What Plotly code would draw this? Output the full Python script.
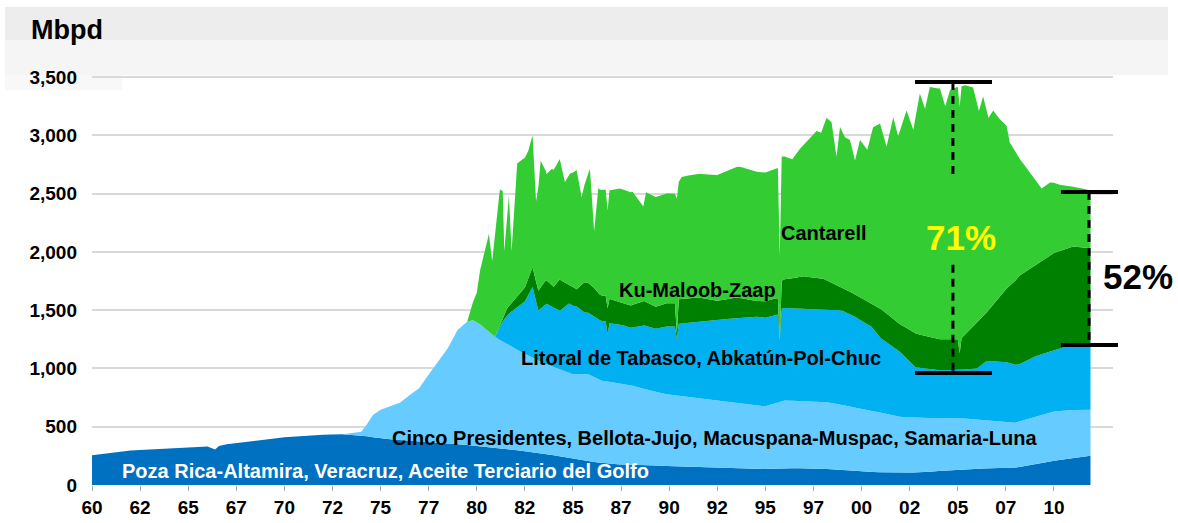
import plotly.graph_objects as go

# ---------------- data (Mbpd; fractional years) ----------------
poza_years = [1960, 1961, 1962, 1963, 1964, 1965, 1966, 1966.4, 1966.6, 1967, 1968, 1969,
              1970, 1971, 1972, 1973, 1974, 1975, 1976, 1977, 1978, 1979, 1980, 1981,
              1982, 1983, 1984, 1985, 1986, 1987, 1988, 1989, 1990, 1991, 1992, 1993,
              1994, 1995, 1996, 1997, 1998, 1999, 2000, 2001, 2002, 2003, 2004, 2005,
              2006, 2007, 2008, 2009, 2010, 2011, 2011.9]
poza_mbpd = [255, 275, 295, 305, 315, 325, 330, 305, 335, 350, 370, 390,
             410, 420, 432, 435, 425, 400, 385, 375, 365, 350, 335, 315,
             300, 280, 255, 225, 200, 180, 172, 168, 163, 158, 152, 148,
             142, 137, 143, 143, 140, 128, 115, 110, 107, 108, 120, 132,
             140, 143, 150, 175, 208, 230, 250]

cinco_years = [1960, 1973, 1973.5, 1974, 1974.3, 1974.6, 1975, 1975.5, 1976, 1976.5, 1977,
               1977.5, 1978, 1978.5, 1979, 1979.5, 1979.8, 1980.2, 1980.6, 1981, 1981.5,
               1982, 1983, 1984, 1985, 1985.8, 1986.5, 1987, 1988, 1989, 1990, 1991, 1992,
               1993, 1994, 1995, 1995.5, 1996, 1997, 1998, 1999, 2000, 2001, 2002, 2003,
               2004, 2005, 2006, 2007, 2008, 2009, 2010, 2011, 2011.9]
cinco_mbpd = [0, 0, 13, 32, 105, 190, 245, 280, 320, 390, 455,
              578, 695, 817, 980, 1057, 1076, 1043, 995, 950, 907,
              870, 800, 755, 725, 745, 705, 700, 683, 642, 612, 597, 578,
              562, 553, 538, 560, 582, 577, 575, 562, 535, 510, 478, 467,
              455, 443, 420, 402, 385, 410, 422, 413, 395]

litoral_years = [1960, 1980.95, 1981.3, 1981.6, 1982.1, 1982.5, 1982.9, 1983.2, 1983.6, 1984,
                 1984.3, 1984.8, 1985.2, 1985.6, 1986, 1986.4, 1986.7, 1986.8, 1986.9, 1987.6,
                 1988, 1988.7, 1989.3, 1989.9, 1990.3, 1990.4, 1990.5, 1991.5, 1992.5, 1993.5,
                 1994.5, 1995.4, 1995.65, 1995.75, 1995.85, 1997, 1998, 1998.9, 1999.5, 2000.5,
                 2001, 2002, 2002.8, 2004, 2005, 2006, 2006.5, 2007.5, 2008.2, 2009, 2010,
                 2011, 2011.9]
litoral_mbpd = [0, 0, 160, 255, 365, 450, 610, 430, 520, 510,
                500, 595, 580, 530, 525, 510, 515, 410, 505, 505,
                495, 545, 540, 582, 590, 482, 619, 657, 700, 727,
                760, 760, 755, 530, 795, 790, 785, 808, 790, 725,
                640, 555, 434, 410, 410, 440, 512, 515, 490, 515, 530,
                557, 565]

kmz_years = [1960, 1980.95, 1981.3, 1981.6, 1982.1, 1982.5, 1982.9, 1983.2, 1983.6, 1984,
             1984.3, 1984.8, 1985.2, 1985.6, 1986, 1986.4, 1986.7, 1986.8, 1986.9, 1987.6,
             1988, 1988.7, 1989.3, 1989.9, 1990.3, 1990.4, 1990.5, 1991.5, 1992.5, 1993.5,
             1994.5, 1995.4, 1995.65, 1995.75, 1995.85, 1997, 1998, 1998.9, 1999.5, 2000.5,
             2001, 2002, 2002.8, 2004, 2005, 2005.1, 2005.2, 2006, 2006.5, 2007.5, 2008.2,
             2009, 2010, 2011, 2011.9]
kmz_mbpd = [0, 0, 20, 60, 85, 120, 170, 170, 200, 180,
            270, 160, 150, 260, 250, 220, 220, 220, 210, 190,
            190, 210, 190, 200, 200, 50, 210, 210, 160, 180,
            135, 145, 140, 0, 240, 280, 270, 200, 190, 200,
            250, 240, 290, 265, 265, 144, 273, 390, 415, 625, 760,
            780, 830, 845, 820]

cantarell_years = [1960, 1979.5, 1980, 1980.17, 1980.5, 1980.63, 1980.8, 1981, 1981.2, 1981.35,
                   1981.43, 1981.67, 1981.81, 1982.07, 1982.4, 1982.68, 1982.9, 1983.08, 1983.32,
                   1983.63, 1983.89, 1984.32, 1984.58, 1984.84, 1985.19, 1985.45, 1985.88, 1986.1,
                   1986.32, 1986.7, 1986.8, 1986.9, 1987.44, 1988.1, 1988.66, 1988.8, 1989.87,
                   1990.3, 1990.4, 1990.5, 1990.65, 1991.6, 1992.47, 1993.68, 1994.55, 1995.41,
                   1995.65, 1995.75, 1995.85, 1996.4, 1996.8, 1997.15, 1997.66, 1997.9, 1998.18,
                   1998.44, 1998.7, 1998.88, 1999.14, 1999.4, 1999.66, 1999.92, 2000.3, 2000.6,
                   2000.96, 2001.3, 2001.65, 2001.9, 2002.34, 2002.69, 2003.03, 2003.3, 2003.55,
                   2004.07, 2004.35, 2004.6, 2005, 2005.1, 2005.2, 2005.37, 2005.8, 2006.1,
                   2006.32, 2006.6, 2006.84, 2007.19, 2007.54, 2007.7, 2008.23, 2008.92,
                   2009.36, 2009.8, 2010.3, 2011, 2011.9]
cantarell_mbpd = [0, 0, 255, 464, 738, 839, 630, 935, 1161, 1091,
                  546, 948, 446, 1149, 1122, 1094, 1132, 688, 1088,
                  914, 996, 1032, 862, 959, 1022, 753, 991, 488,
                  899, 910, 839, 931, 975, 971, 813, 941, 942,
                  940, 1159, 1005, 1045, 1064, 1079, 1126, 1108, 1102,
                  1116, 718, 1066, 1020, 1099, 1155, 1260, 1250, 1394,
                  1377, 1101, 1370, 1303, 1300, 1148, 1350, 1300, 1519,
                  1587, 1432, 1730, 1600, 1867, 1735, 2070, 1950, 2147,
                  2153, 2000, 2138, 2167, 2115, 2160, 2141, 2053, 1800,
                  1886, 1650, 1667, 1521, 1394, 1231, 998, 770,
                  625, 627, 569, 514, 499]

field_names = ["Poza Rica-Altamira, Veracruz, Aceite Terciario del Golfo",
               "Cinco Presidentes, Bellota-Jujo, Macuspana-Muspac, Samaria-Luna",
               "Litoral de Tabasco, Abkatún-Pol-Chuc",
               "Ku-Maloob-Zaap",
               "Cantarell"]

tick_years = [1960, 1962.5, 1965, 1967.5, 1970, 1972.5, 1975, 1977.5, 1980, 1982.5, 1985,
              1987.5, 1990, 1992.5, 1995, 1997.5, 2000, 2002.5, 2005, 2007.5, 2010]
tick_labels = ["60", "62", "65", "67", "70", "72", "75", "77", "80", "82", "85",
               "87", "90", "92", "95", "97", "00", "02", "05", "07", "10"]
y_ticks = [0, 500, 1000, 1500, 2000, 2500, 3000, 3500]

# ---------------- styling ----------------
colors = ["#0070C0", "#66CCFF", "#00B0F0", "#008000", "#33CC33"]
FONT = "Liberation Sans, Arial, sans-serif"

fig = go.Figure()
series = [(poza_years, poza_mbpd), (cinco_years, cinco_mbpd), (litoral_years, litoral_mbpd),
          (kmz_years, kmz_mbpd), (cantarell_years, cantarell_mbpd)]
for (xs, ys), name, col in zip(series, field_names, colors):
    fig.add_trace(go.Scatter(
        x=xs, y=ys, name=name, mode="lines", stackgroup="prod", stackgaps="interpolate",
        line=dict(width=0, color=col), fillcolor=col, hoverinfo="skip"))

# labels inside the areas
label_pos = [(1975.28, 116, "white"), (1992.37, 403, "black"), (1991.68, 1089, "black"),
             (1991.47, 1673, "black"), (1998.07, 2162, "black")]
for name, (lx, ly, lc) in zip(field_names, label_pos):
    fig.add_annotation(x=lx, y=ly, text=name, showarrow=False, xanchor="center", yanchor="middle",
                       font=dict(family=FONT, size=20, color=lc, weight="bold"))

shapes = []
# header band
shapes.append(dict(type="rect", xref="paper", yref="paper", x0=-0.0852, x1=1.0539, y0=1.047, y1=1.1247,
                   fillcolor="#EDEDED", line=dict(width=0), layer="below"))
shapes.append(dict(type="rect", xref="paper", yref="paper", x0=-0.0852, x1=1.0539, y0=0.9647, y1=1.047,
                   fillcolor="#F5F5F5", line=dict(width=0), layer="below"))
shapes.append(dict(type="rect", xref="paper", yref="paper", x0=-0.0852, x1=0.0294, y0=0.929, y1=0.9647,
                   fillcolor="#F8F8F8", line=dict(width=0), layer="below"))

# 71% bracket (data coords)
shapes += [
    dict(type="line", xref="x", yref="y", x0=2002.78, x1=2006.78, y0=3457, y1=3457,
         line=dict(color="black", width=4)),
    dict(type="line", xref="x", yref="y", x0=2002.78, x1=2006.78, y0=961, y1=961,
         line=dict(color="black", width=4)),
    dict(type="line", xref="x", yref="y", x0=2004.75, x1=2004.75, y0=3457, y1=2640,
         line=dict(color="black", width=3, dash="8px,6px")),
    dict(type="line", xref="x", yref="y", x0=2004.75, x1=2004.75, y0=1890, y1=961,
         line=dict(color="black", width=3, dash="8px,6px")),
]
# 52% bracket (paper coords, extends right of plot)
shapes += [
    dict(type="line", xref="paper", yref="paper", x0=0.949, x1=1.0049, y0=0.6894, y1=0.6894,
         line=dict(color="black", width=4)),
    dict(type="line", xref="paper", yref="paper", x0=0.949, x1=1.0049, y0=0.3294, y1=0.3294,
         line=dict(color="black", width=4)),
    dict(type="line", xref="paper", yref="paper", x0=0.9765, x1=0.9765, y0=0.6894, y1=0.3294,
         line=dict(color="black", width=3, dash="8px,6px")),
]

fig.add_annotation(x=2005.19, y=2127, text="71%", showarrow=False, xanchor="center", yanchor="middle",
                   font=dict(family=FONT, size=35, color="#FFFF00", weight="bold"))
fig.add_annotation(xref="paper", yref="paper", x=1.024, y=0.491, text="52%", showarrow=False,
                   xanchor="center", yanchor="middle",
                   font=dict(family=FONT, size=35, color="black", weight="bold"))
fig.add_annotation(xref="paper", yref="paper", x=-0.0617, y=1.07, text="Mbpd", showarrow=False,
                   xanchor="left", yanchor="middle",
                   font=dict(family=FONT, size=27, color="black", weight="bold"))

fig.update_layout(
    width=1178, height=523,
    margin=dict(l=92, r=65, t=60, b=38),
    paper_bgcolor="white", plot_bgcolor="white",
    showlegend=False, shapes=shapes,
    font=dict(family=FONT, color="black"),
    xaxis=dict(range=[1960, 2013.07], tickvals=tick_years, ticktext=tick_labels,
               ticks="outside", ticklen=5, tickcolor="#A6A6A6", tickwidth=1,
               showgrid=False, zeroline=False, showline=False, automargin=False,
               tickfont=dict(family=FONT, size=19, color="black", weight="bold")),
    yaxis=dict(range=[0, 3646], tickvals=y_ticks, tickformat=",", ticks="",
               showgrid=True, gridcolor="#D9D9D9", gridwidth=1.5, zeroline=False, showline=False,
               ticklabelstandoff=14, automargin=False,
               tickfont=dict(family=FONT, size=19, color="black", weight="bold")),
)

fig.write_html("out.html", config={"displayModeBar": False},
               post_script="document.body.style.margin='0';")
